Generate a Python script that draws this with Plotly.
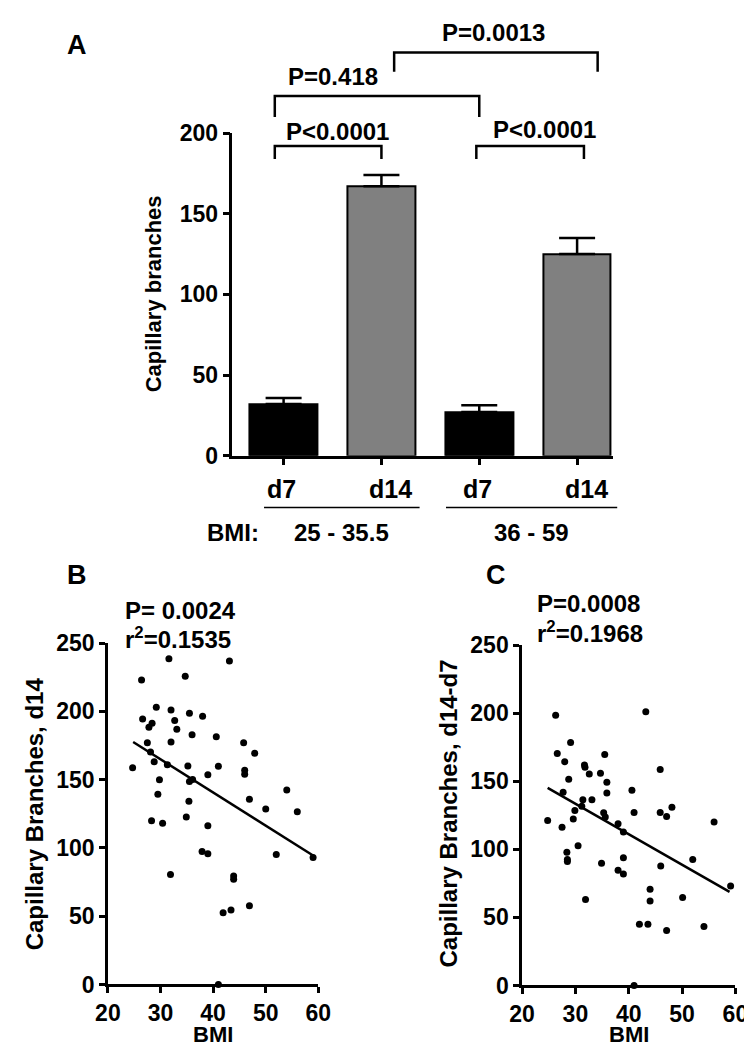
import plotly.graph_objects as go

W, H = 752, 1048
FONT = "Liberation Sans, Arial, sans-serif"

# ---------------- data ----------------
# Panel A
a_days = ["d7", "d14", "d7", "d14"]
a_pos = [0, 1, 2, 3]
a_mean = [32, 167, 27, 125]
a_err = [3.7, 7, 4.3, 10]
a_fill = ["black", "#808080", "black", "#808080"]
a_bmi_groups = ["25 - 35.5", "36 - 59"]
a_p_labels = ["P<0.0001", "P=0.418", "P<0.0001", "P=0.0013"]
a_br_x0 = [-0.09, -0.09, 1.97, 1.13]
a_br_x1 = [1.0, 2.0, 3.07, 3.21]
a_br_top = [192, 223, 192, 250]
a_br_leg = [184, 210, 184, 238]
a_ticks = [0, 50, 100, 150, 200]

# Panel B  (BMI vs capillary branches d14)
bmi_b = [31.6, 43.1, 26.4, 34.7, 29.2, 32.0, 35.5, 38.0, 26.6, 28.4, 27.8, 32.7, 33.1,
         36.0, 40.6, 45.8, 27.5, 32.0, 28.1, 47.9, 28.8, 24.7, 31.3, 35.2, 41.0, 39.0,
         46.0, 46.0, 29.8, 35.5, 36.1, 54.0, 29.5, 35.4, 46.9, 50.0, 56.0, 34.9, 28.3,
         30.4, 39.0, 37.9, 39.0, 52.0, 59.0, 31.9, 43.9, 43.9, 41.9, 43.4, 46.9, 41.0]
cap_b = [238.6, 237, 223, 225.7, 203, 201, 198.6, 196.4, 194.5, 191.4, 188.4, 193.4, 186.9,
         182.9, 181.4, 177.1, 177.1, 177.6, 170.2, 169.3, 163.1, 158.8, 161, 160, 159.8, 153.6,
         157, 154, 150, 148.6, 150.2, 142.4, 139.3, 134.3, 135.7, 128.6, 126.6, 122.6, 120,
         118.1, 116.2, 97.4, 95.7, 95.2, 93, 80.5, 79.5, 77.1, 52.6, 54.5, 57.6, 0]
fit_b_x = [24.8, 59.0]
fit_b_y = [177.6, 94.5]
stats_b = ["P= 0.0024", "r<sup>2</sup>=0.1535"]

# Panel C  (BMI vs capillary branches d14-d7)
bmi_c = [26.3, 29.1, 26.6, 28.0, 35.5, 31.7, 31.8, 32.6, 34.7, 28.75, 35.9, 35.9, 27.7,
         31.4, 33.1, 31.2, 29.9, 35.3, 35.6, 24.8, 29.6, 27.5, 30.5, 28.4, 43.2, 45.9,
         40.6, 41.0, 45.9, 47.1, 48.1, 38.0, 39.0, 56.0, 39.0, 52.0, 28.5, 28.5, 34.9,
         31.9, 38.0, 39.0, 46.0, 59.1, 44.0, 44.0, 50.1, 42.0, 43.6, 47.1, 54.1, 41.0]
cap_c = [198.4, 178.5, 170.4, 164.4, 169.6, 162, 160.3, 155.3, 155.8, 151.5, 149.3, 141.4, 141.9,
         136.4, 136.4, 131.6, 128.5, 126.8, 123.7, 121.1, 122.3, 116.3, 102.7, 97.8, 201, 158.7,
         143.4, 127, 127, 124.2, 130.9, 118.7, 112.7, 120.1, 93.8, 92.6, 92.6, 91, 89.7,
         63.2, 84.7, 81.8, 87.8, 73, 70.6, 62, 64.6, 45, 45, 40.4, 43.3, 0]
fit_c_x = [24.8, 58.9]
fit_c_y = [145.2, 68.7]
stats_c = ["P=0.0008", "r<sup>2</sup>=0.1968"]

sc_xticks = [20, 30, 40, 50, 60]
sc_yticks = [0, 50, 100, 150, 200, 250]

# ---------------- layout geometry (pixels) ----------------
def px(x):
    return x / W

def py(y):
    return 1 - y / H

A_X = (219, 613); A_XR = [-0.523, 3.365]
A_Y = (445.7, 115); A_YR = [0, 200]
B_X = (90, 308); B_Y = (988, 638)
C_X = (519, 740); C_Y = (989, 640)
SC_XR = [20, 60]; SC_YR = [0, 250]


def a_xpaper(v):
    return px(A_X[0] + (v - A_XR[0]) / (A_XR[1] - A_XR[0]) * (A_X[1] - A_X[0]))


def a_ypaper(v):
    return py(A_Y[0] + (v - A_YR[0]) / (A_YR[1] - A_YR[0]) * (A_Y[1] - A_Y[0]))


fig = go.Figure()

# Panel A bars
fig.add_trace(go.Bar(
    x=a_pos, y=a_mean, width=0.69,
    marker=dict(color=a_fill, line=dict(color="black", width=2)),
    error_y=dict(type="data", array=a_err, arrayminus=[0] * 4, symmetric=False,
                 color="black", thickness=2.5, width=18),
    xaxis="x", yaxis="y", showlegend=False,
))

# Panel B
fig.add_trace(go.Scatter(x=bmi_b, y=cap_b, mode="markers",
                         marker=dict(color="black", size=7), cliponaxis=False,
                         xaxis="x2", yaxis="y2", showlegend=False))
fig.add_trace(go.Scatter(x=fit_b_x, y=fit_b_y, mode="lines",
                         line=dict(color="black", width=2.5),
                         xaxis="x2", yaxis="y2", showlegend=False))
# Panel C
fig.add_trace(go.Scatter(x=bmi_c, y=cap_c, mode="markers",
                         marker=dict(color="black", size=7), cliponaxis=False,
                         xaxis="x3", yaxis="y3", showlegend=False))
fig.add_trace(go.Scatter(x=fit_c_x, y=fit_c_y, mode="lines",
                         line=dict(color="black", width=2.5),
                         xaxis="x3", yaxis="y3", showlegend=False))

tickfont = dict(family=FONT, size=23, color="black", weight="bold")
axis_common = dict(showline=True, linecolor="black", linewidth=2.5, ticks="outside",
                   tickcolor="black", tickwidth=2.5, showgrid=False, zeroline=False,
                   tickfont=tickfont, fixedrange=True)
axis_notext = {k: v for k, v in axis_common.items() if k != "tickfont"}

fig.update_layout(
    width=W, height=H, margin=dict(l=0, r=0, t=0, b=0),
    paper_bgcolor="white", plot_bgcolor="white",
    font=dict(family=FONT, color="black"),
    bargap=0,
    xaxis=dict(domain=[px(A_X[0]), px(A_X[1])], range=A_XR, anchor="y",
               tickvals=a_pos, showticklabels=False, ticklen=7, **axis_notext),
    yaxis=dict(domain=[py(A_Y[0]), py(A_Y[1])], range=A_YR, anchor="x",
               tickvals=a_ticks, ticklen=7, **axis_common),
    xaxis2=dict(domain=[px(B_X[0]), px(B_X[1])], range=SC_XR, anchor="y2",
                tickvals=sc_xticks, ticklen=6, **axis_common),
    yaxis2=dict(domain=[py(B_Y[0]), py(B_Y[1])], range=SC_YR, anchor="x2",
                tickvals=sc_yticks, ticklen=6, **axis_common),
    xaxis3=dict(domain=[px(C_X[0]), px(C_X[1])], range=SC_XR, anchor="y3",
                tickvals=sc_xticks, ticklen=6, **axis_common),
    yaxis3=dict(domain=[py(C_Y[0]), py(C_Y[1])], range=SC_YR, anchor="x3",
                tickvals=sc_yticks, ticklen=6, **axis_common),
)

shapes = []
annotations = []


def txt(x, y, s, size=24, xanchor="center", angle=0):
    annotations.append(dict(x=x, y=y, xref="paper", yref="paper", text=s, showarrow=False,
                            xanchor=xanchor, yanchor="middle", textangle=angle,
                            font=dict(family=FONT, size=size, color="black", weight="bold")))


# significance brackets
for x0, x1, top, leg in zip(a_br_x0, a_br_x1, a_br_top, a_br_leg):
    X0, X1 = a_xpaper(x0), a_xpaper(x1)
    Yt, Yl = a_ypaper(top), a_ypaper(leg)
    shapes.append(dict(type="path", xref="paper", yref="paper",
                       path=f"M {X0},{Yl} L {X0},{Yt} L {X1},{Yt} L {X1},{Yl}",
                       line=dict(color="black", width=2.5)))

p_text_pos = [(327.7, 113.3), (323, 56.7), (542, 111.7), (489, 12)]
for (tx, ty), s in zip(p_text_pos, a_p_labels):
    txt(px(tx), py(ty), s, size=24)

# day labels and BMI groups
for p, d in zip(a_pos, a_days):
    shift = 9 if d == "d14" else -2
    annotations.append(dict(x=p, y=py(480), xref="x", yref="paper", text=d, showarrow=False,
                            xshift=shift, yanchor="middle",
                            font=dict(family=FONT, size=25, color="black", weight="bold")))

group_lines = [(-0.2, 1.39), (1.66, 3.41)]
for (g0, g1), label in zip(group_lines, a_bmi_groups):
    shapes.append(dict(type="line", xref="paper", yref="paper",
                       x0=a_xpaper(g0), x1=a_xpaper(g1), y0=py(499), y1=py(499),
                       line=dict(color="black", width=1.5)))
    txt((a_xpaper(g0) + a_xpaper(g1)) / 2, py(525), label, size=24)
txt(px(220), py(525), "BMI:", size=24)

# axis titles
txt(px(137), py(280), "Capillary branches", size=22, angle=-90)
txt(px(14), py(813), "Capillary Branches, d14", size=24, angle=-90)
txt(px(443), py(813), "Capillary Branches, d14-d7", size=24, angle=-90)
txt(px((B_X[0] + B_X[1]) / 2), py(1039), "BMI", size=22)
txt(px((C_X[0] + C_X[1]) / 2), py(1039), "BMI", size=22)

# stats
txt(px(106), py(605), stats_b[0], size=24, xanchor="left")
txt(px(106), py(633), stats_b[1], size=24, xanchor="left")
txt(px(532), py(597), stats_c[0], size=24, xanchor="left")
txt(px(532), py(627), stats_c[1], size=24, xanchor="left")

# panel letters
txt(px(58), py(25), "A", size=27)
txt(px(58), py(568), "B", size=27)
txt(px(492), py(568), "C", size=27)

fig.update_layout(shapes=shapes, annotations=annotations)
fig.write_html("out.html")
